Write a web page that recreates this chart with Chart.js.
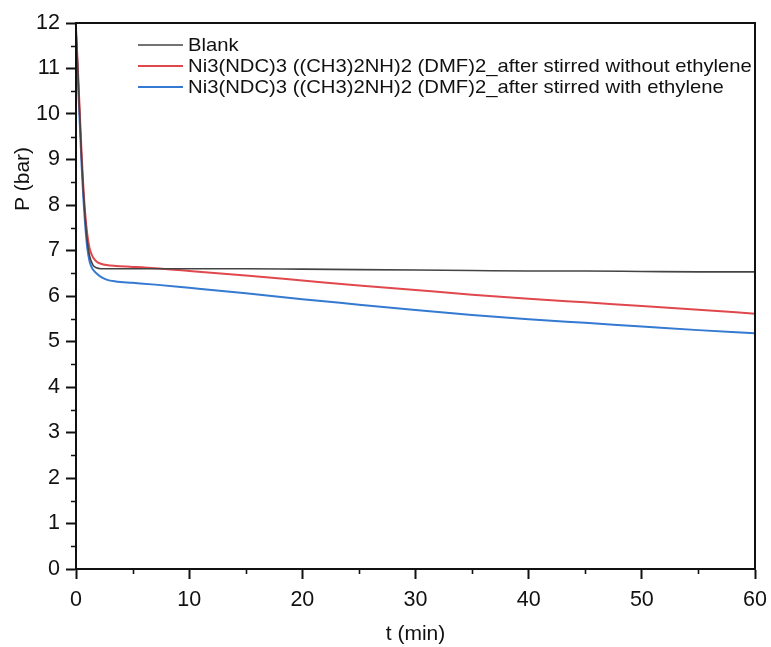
<!DOCTYPE html>
<html>
<head>
<meta charset="utf-8">
<script src="https://cdn.jsdelivr.net/npm/chart.js@4.4.1/dist/chart.umd.min.js"></script>
<style>
  html, body { margin: 0; padding: 0; background: #fff; }
  #wrap { width: 771px; height: 647px; }
</style>
</head>
<body>
<div id="wrap"><canvas id="c" width="771" height="647"></canvas></div>
<script>
// Time points (min)
const timeMin = [0, 0.1, 0.2, 0.35, 0.5, 0.65, 0.8, 1.0, 1.2, 1.5, 1.8, 2.2, 2.7, 3.5, 5, 7, 10, 15, 20, 25, 30, 35, 40, 45, 50, 55, 60];

// Pressure (bar) for each run
const blankP = [11.85, 11.3, 10.75, 9.85, 9.0, 8.3, 7.75, 7.2, 6.88, 6.68, 6.62, 6.6, 6.6, 6.6, 6.6, 6.6, 6.6, 6.6, 6.59, 6.58, 6.57, 6.56, 6.55, 6.55, 6.54, 6.53, 6.53];
const withoutEthyleneP = [11.85, 11.35, 10.8, 9.95, 9.1, 8.4, 7.85, 7.35, 7.05, 6.85, 6.76, 6.71, 6.68, 6.66, 6.64, 6.61, 6.55, 6.45, 6.34, 6.23, 6.13, 6.03, 5.94, 5.86, 5.78, 5.7, 5.61];
const withEthyleneP = [11.85, 11.2, 10.55, 9.7, 8.85, 8.15, 7.6, 7.05, 6.76, 6.58, 6.5, 6.42, 6.36, 6.32, 6.29, 6.25, 6.18, 6.06, 5.93, 5.81, 5.69, 5.58, 5.49, 5.41, 5.33, 5.25, 5.18];

const seriesLabels = [
  'Blank',
  'Ni3(NDC)3 ((CH3)2NH)2 (DMF)2_after stirred without ethylene',
  'Ni3(NDC)3 ((CH3)2NH)2 (DMF)2_after stirred with ethylene'
];
const xTitle = 't (min)';
const yTitle = 'P (bar)';

const FONT = '"Liberation Sans", Arial, sans-serif';

const toPoints = arr => arr.map((v, i) => ({ x: timeMin[i], y: v }));

// Frame, minor ticks, y title and in-plot legend
const decor = {
  id: 'decor',
  afterDraw(chart) {
    const { ctx, chartArea: a, scales } = chart;
    ctx.save();
    ctx.strokeStyle = '#111';
    ctx.lineWidth = 2;
    ctx.strokeRect(a.left, a.top, a.right - a.left, a.bottom - a.top);

    // minor ticks
    ctx.lineWidth = 1.6;
    ctx.beginPath();
    for (let v = 0.5; v < 12; v += 1) {
      const y = Math.round(scales.y.getPixelForValue(v)) + 0.5;
      ctx.moveTo(a.left - 5, y);
      ctx.lineTo(a.left, y);
    }
    for (let v = 5; v < 60; v += 10) {
      const x = Math.round(scales.x.getPixelForValue(v)) + 0.5;
      ctx.moveTo(x, a.bottom);
      ctx.lineTo(x, a.bottom + 5);
    }
    ctx.stroke();

    // y axis title
    ctx.fillStyle = '#111';
    ctx.font = '21px ' + FONT;
    ctx.textAlign = 'center';
    ctx.textBaseline = 'middle';
    ctx.translate(23, a.top + 156);
    ctx.rotate(-Math.PI / 2);
    ctx.fillText(yTitle, 0, 0);
    ctx.restore();

    // legend (text set slightly wide)
    ctx.save();
    ctx.font = '19px ' + FONT;
    ctx.textBaseline = 'middle';
    ctx.textAlign = 'left';
    chart.data.datasets.forEach((ds, i) => {
      const y = a.top + 22 + i * 21;
      ctx.strokeStyle = ds.borderColor;
      ctx.lineWidth = ds.borderWidth;
      ctx.beginPath();
      ctx.moveTo(a.left + 62, y);
      ctx.lineTo(a.left + 107, y);
      ctx.stroke();
      ctx.save();
      ctx.translate(a.left + 112, y + 1);
      ctx.scale(1.066, 1);
      ctx.fillStyle = '#111';
      ctx.fillText(ds.label, 0, 0);
      ctx.restore();
    });
    ctx.restore();
  }
};

new Chart(document.getElementById('c'), {
  type: 'line',
  data: {
    datasets: [
      { label: seriesLabels[0], data: toPoints(blankP), borderColor: '#444444', borderWidth: 1.6 },
      { label: seriesLabels[1], data: toPoints(withoutEthyleneP), borderColor: '#e0484d', borderWidth: 2 },
      { label: seriesLabels[2], data: toPoints(withEthyleneP), borderColor: '#3479d2', borderWidth: 2 }
    ]
  },
  options: {
    responsive: false,
    animation: false,
    devicePixelRatio: 1,
    elements: {
      point: { radius: 0 },
      line: { cubicInterpolationMode: 'monotone', fill: false }
    },
    layout: { padding: { top: 23, right: 16, left: 0, bottom: 0 } },
    plugins: { legend: { display: false }, tooltip: { enabled: false } },
    scales: {
      x: {
        type: 'linear',
        min: 0, max: 60,
        ticks: { stepSize: 10, color: '#111', font: { family: FONT, size: 21.5 }, padding: 8, maxRotation: 0 },
        grid: { drawOnChartArea: false, drawTicks: true, tickLength: 10, tickColor: '#111', tickWidth: 2 },
        border: { display: true, color: '#111', width: 2 },
        title: { display: true, text: xTitle, color: '#111', font: { family: FONT, size: 21 }, padding: { top: 2, bottom: 0 } },
        afterFit(s) { s.height = 78; s.paddingRight = 0; s.paddingLeft = 0; }
      },
      y: {
        min: 0, max: 12,
        ticks: { stepSize: 1, color: '#111', font: { family: FONT, size: 21.5 }, padding: 6 },
        grid: { drawOnChartArea: false, drawTicks: true, tickLength: 10, tickColor: '#111', tickWidth: 2 },
        border: { display: true, color: '#111', width: 2 },
        afterFit(s) { s.width = 76; s.paddingTop = 0; s.paddingBottom = 0; }
      }
    }
  },
  plugins: [decor]
});
</script>
</body>
</html>
